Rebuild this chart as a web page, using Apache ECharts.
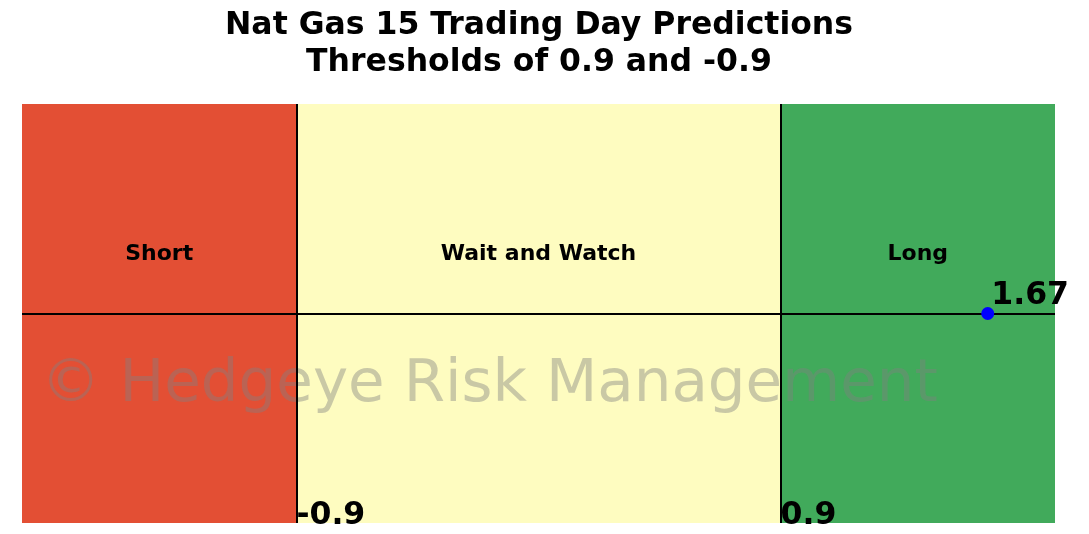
<!DOCTYPE html>
<html>
<head>
<meta charset="utf-8">
<script src="https://cdn.jsdelivr.net/npm/echarts@6/dist/echarts.min.js"></script>
<style>
  html, body { margin: 0; padding: 0; background: #fff; }
  #chart { width: 1089px; height: 534px; }
</style>
</head>
<body>
<div id="chart"></div>
<script>
// zones of the signal, left to right
const zoneNames = ['Short', 'Wait and Watch', 'Long'];
const zoneBounds = [-1.92, -0.9, 0.9, 1.92];
const zoneColors = ['#e34f34', '#fefcc0', '#41aa5b'];
const thresholds = [-0.9, 0.9];
const thresholdLabels = ['-0.9', '0.9'];
const prediction = 1.67;
const predictionLabel = '1.67';

var myChart = echarts.init(document.getElementById('chart'));

var areas = zoneNames.map(function (name, i) {
  return [
    { xAxis: zoneBounds[i], yAxis: -1, itemStyle: { color: zoneColors[i] } },
    { xAxis: zoneBounds[i + 1], yAxis: 1 }
  ];
});

var zoneLabelData = zoneNames.map(function (name, i) {
  return { value: [(zoneBounds[i] + zoneBounds[i + 1]) / 2, 0.282], name: name };
});

var lines = thresholds.map(function (t) { return { xAxis: t }; });
lines.push({ yAxis: 0 });

var boldLabel = {
  show: true,
  formatter: '{b}',
  fontFamily: 'DejaVu Sans',
  fontWeight: 'bold',
  color: '#000',
  opacity: 1
};

var option = {
  animation: false,
  title: {
    text: 'Nat Gas 15 Trading Day Predictions\nThresholds of 0.9 and -0.9',
    left: 534,
    textAlign: 'center',
    top: 2,
    textStyle: {
      fontFamily: 'DejaVu Sans',
      fontWeight: 'bold',
      fontSize: 31.5,
      lineHeight: 37,
      color: '#000'
    }
  },
  grid: { left: 22, right: 34, top: 104, bottom: 11 },
  xAxis: { type: 'value', min: zoneBounds[0], max: zoneBounds[3], show: false },
  yAxis: { type: 'value', min: -1, max: 1, show: false },
  graphic: [{
    type: 'text',
    z: 2,
    x: 41,
    y: 386,
    style: {
      text: '\u00a9 Hedgeye Risk Management',
      font: '59.5px "DejaVu Sans"',
      fill: 'rgba(128,128,128,0.42)',
      textVerticalAlign: 'middle'
    }
  }],
  series: [
    {
      type: 'scatter',
      z: 1,
      data: [],
      markArea: { silent: true, data: areas }
    },
    {
      type: 'scatter',
      z: 3,
      data: [],
      markLine: {
        silent: true,
        symbol: 'none',
        label: { show: false },
        lineStyle: { color: '#000', width: 2, type: 'solid', opacity: 1 },
        data: lines
      }
    },
    {
      type: 'scatter',
      z: 4,
      symbolSize: 0,
      itemStyle: { opacity: 1 },
      data: zoneLabelData,
      label: Object.assign({}, boldLabel, { position: 'inside', fontSize: 22 })
    },
    {
      type: 'scatter',
      z: 4,
      symbolSize: 0,
      itemStyle: { opacity: 1 },
      data: thresholds.map(function (t, i) { return { value: [t, -1], name: thresholdLabels[i] }; }),
      label: Object.assign({}, boldLabel, {
        position: [0, 9], align: 'left', verticalAlign: 'bottom', fontSize: 31.5
      })
    },
    {
      type: 'scatter',
      z: 5,
      symbolSize: 13,
      itemStyle: { color: '#0000ff', opacity: 1 },
      data: [{ value: [prediction, 0], name: predictionLabel }],
      label: Object.assign({}, boldLabel, {
        position: [10, 5], align: 'left', verticalAlign: 'bottom', fontSize: 31.5
      })
    }
  ]
};
myChart.setOption(option);
</script>
</body>
</html>
